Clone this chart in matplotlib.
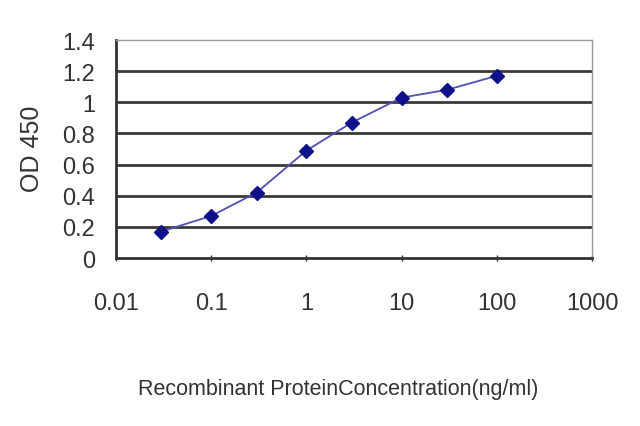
import numpy as np
import matplotlib.pyplot as plt
from matplotlib.ticker import FixedLocator, NullLocator

plt.rcParams['font.family'] = ['Liberation Sans', 'DejaVu Sans']

# concentration (ng/ml) and OD 450 readings
conc = [0.03, 0.1, 0.3, 1, 3, 10, 30, 100]
od450 = [0.17, 0.27, 0.42, 0.69, 0.87, 1.03, 1.08, 1.17]
x_ticks = [0.01, 0.1, 1, 10, 100, 1000]
x_labels = ['0.01', '0.1', '1', '10', '100', '1000']
y_ticks = [0, 0.2, 0.4, 0.6, 0.8, 1.0, 1.2, 1.4]
y_labels = ['0', '0.2', '0.4', '0.6', '0.8', '1', '1.2', '1.4']

fig = plt.figure(figsize=(6.4, 4.27), dpi=100)
ax = fig.add_axes([116 / 640, 1 - 259 / 427, (592 - 116) / 640, (259 - 41) / 427])

ax.set_xscale('log')
ax.set_xlim(0.01, 1000)
ax.set_ylim(0, 1.4)

# horizontal gridlines (Excel style)
for v in y_ticks[1:-1]:
    ax.axhline(v, color='#3a3a3a', linewidth=2.0, zorder=1)

ax.plot(conc, od450, color='#5050b0', linewidth=1.3, zorder=3)
ax.plot(conc, od450, linestyle='none', marker='D', markersize=7,
        color='#10108a', zorder=4)

ax.xaxis.set_major_locator(FixedLocator(x_ticks))
ax.xaxis.set_minor_locator(NullLocator())
ax.set_xticklabels(x_labels)
ax.set_yticks(y_ticks)
ax.set_yticklabels(y_labels)

ax.tick_params(axis='x', direction='inout', length=5, width=1, pad=22,
               labelsize=17, colors='#333333')
ax.tick_params(axis='y', length=0, pad=15, labelsize=17, colors='#333333')

for side in ['left', 'bottom']:
    ax.spines[side].set_color('#333333')
    ax.spines[side].set_linewidth(2)
for side in ['top', 'right']:
    ax.spines[side].set_color('#999999')
    ax.spines[side].set_linewidth(1)

ax.text((32 - 116) / 476, (259 - 149) / 218, 'OD 450', transform=ax.transAxes,
        rotation=90, ha='center', va='center', fontsize=18, color='#333333')
ax.text((338 - 116) / 476, (259 - 390) / 218, 'Recombinant ProteinConcentration(ng/ml)',
        transform=ax.transAxes, ha='center', va='center', fontsize=15.5,
        color='#333333')

fig.savefig('out.png', dpi=100)
